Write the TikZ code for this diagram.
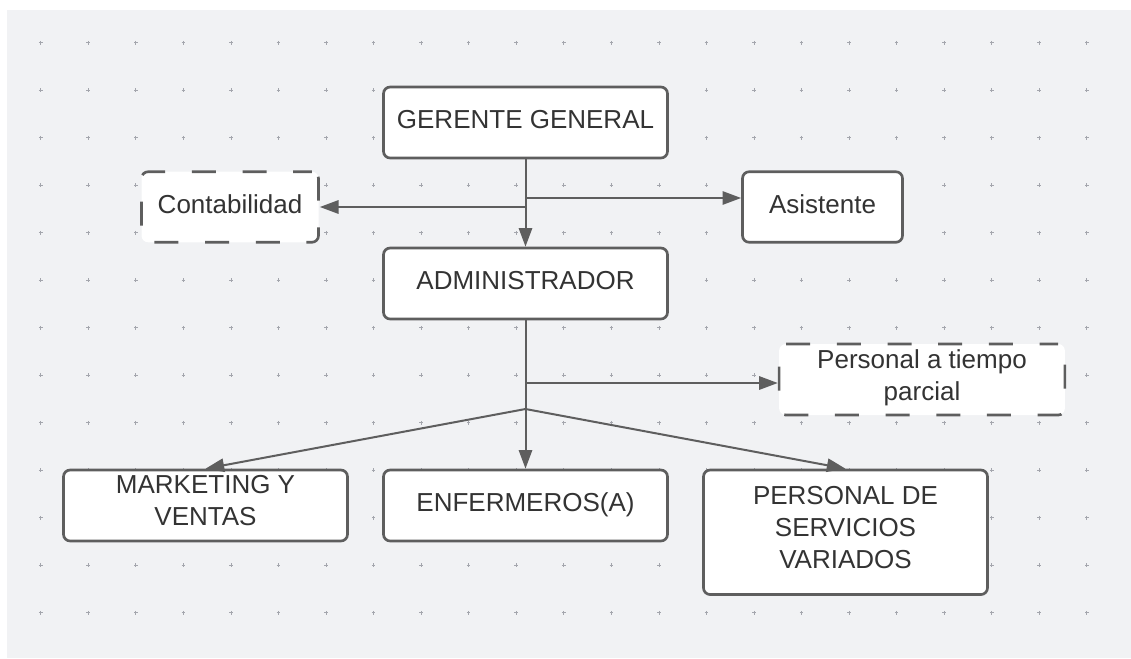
\documentclass[tikz,border=0pt]{standalone}
\usepackage{fontspec}
\setmainfont{Liberation Sans}
\usetikzlibrary{arrows.meta,positioning}

\definecolor{canvas}{HTML}{F1F2F4}
\definecolor{edge}{HTML}{5E5E5E}
\definecolor{ink}{HTML}{333333}
\definecolor{dotgray}{HTML}{A4A6AD}

\begin{document}
\begin{tikzpicture}[
  x=0.75pt, y=-0.75pt, >={Triangle[length=14pt,width=10pt]},
  every node/.style={font=\fontsize{19.5}{24}\selectfont, text=ink},
  box/.style={draw=edge, line width=2pt, fill=white, rounded corners=5pt,
              minimum width=213pt, minimum height=53.25pt, inner sep=0pt,
              align=center, execute at begin node=\strut,
              execute at end node=\strut},
  dashbox/.style={box, dash pattern=on 18pt off 20pt, dash phase=4pt},
  link/.style={draw=edge, line width=1.5pt}
]
  % canvas with dot grid
  \useasboundingbox (0,0) rectangle (1131,658);
  \fill[white] (0,0) rectangle (1131,658);
  \fill[canvas] (7,10) rectangle (1131,658);
  \foreach \i in {0,...,22}
    \foreach \j in {0,...,12}
      \draw[dotgray, line width=0.5pt]
        (40.7+47.55*\i-1.8, 42.7+47.5*\j) -- ++(3.6,0)
        (40.7+47.55*\i, 42.7+47.5*\j-1.8) -- ++(0,3.6);

  \node[box] (ger) at (525.5,122.5) {GERENTE GENERAL};
  \node[box, below=65.5pt of ger] (adm) {ADMINISTRADOR};
  \node[dashbox, minimum width=132.75pt, minimum height=52.9pt]
    (cont) at (230,207) {Contabilidad};
  \node[box, minimum width=120pt, minimum height=52.9pt]
    (asis) at (822.5,207) {Asistente};
  \node[dashbox, minimum width=214.3pt]
    (parc) at (922,379.5) {Personal a tiempo\\parcial};

  \node[box] (enf) at (525.5,505.5) {ENFERMEROS(A)};
  \node[box, left=25pt of enf] (mkt) {MARKETING Y\\VENTAS};
  \node[box, minimum height=93.4pt, right=25pt of enf.north east,
        anchor=north west] (serv) {PERSONAL DE\\SERVICIOS\\VARIADOS};

  % branch points on the trunk
  \coordinate (ja) at (525.5,198);
  \coordinate (jp) at (525.5,383);
  \coordinate (jb) at (525.5,409);

  \draw[link, ->] (ger) -- (adm);
  \draw[link, ->] (ja) -- (ja -| asis.west);
  \draw[link, ->] (cont.east -| ger.south) -- (cont.east);
  \draw[link, ->] (adm) -- (enf);
  \draw[link, ->] (jp) -- (jp -| parc.west);
  \draw[link, ->] (jb) -- (mkt.north);
  \draw[link, ->] (jb) -- (serv.north);
\end{tikzpicture}
\end{document}
